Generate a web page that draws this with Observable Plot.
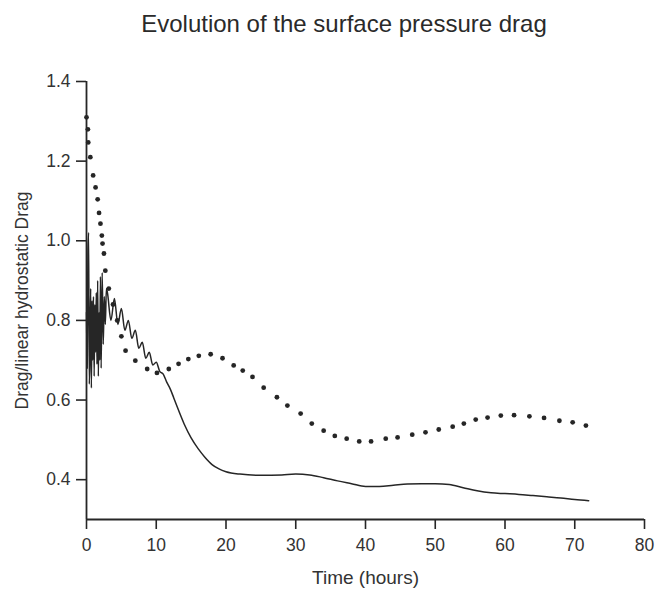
<!DOCTYPE html>
<html>
<head>
<meta charset="utf-8">
<script src="https://cdn.jsdelivr.net/npm/d3@7"></script>
<script src="https://cdn.jsdelivr.net/npm/@observablehq/plot@0.6"></script>
<style>
  body { margin: 0; background: #fff; font-family: "Liberation Sans", Arial, sans-serif; }
  #title { width: 666px; height: 50px; box-sizing: border-box; padding-top: 10px; padding-left: 22px;
           text-align: center; font-size: 24px; line-height: 28px; color: #2a2a2a; }
  svg { display: block; }
</style>
</head>
<body>
<div id="title">Evolution of the surface pressure drag</div>
<div id="chart"></div>
<script>
// Solid line: full simulation (time in hours, drag ratio)
const solidTime = [0, 0.1, 0.2, 0.3, 0.4, 0.5, 0.6, 0.7, 0.8, 0.9, 1.0, 1.1, 1.2, 1.3, 1.4, 1.5, 1.6, 1.7, 1.8, 1.9, 2.0, 2.1, 2.25, 2.4, 2.55, 2.7, 2.85,
  3.0, 3.5, 4.0, 4.5, 5.0, 5.5, 6.0, 6.5, 7.0, 7.5, 8.0, 8.5, 9.0, 9.5, 10.0, 10.5, 11, 11.5, 12, 12.5, 13, 14, 15, 16, 17, 18, 19, 20,
  22, 25, 28, 30, 32, 34, 36, 38, 40, 42, 44, 46, 48, 50, 52, 54, 56, 58, 60, 62, 64, 66, 68, 70, 72];
const solidValue = [0.82, 0.68, 0.97, 1.02, 0.64, 0.72, 0.88, 0.63, 0.85, 0.70, 0.86, 0.66, 0.84, 0.72, 0.87, 0.69, 0.90, 0.66, 0.82, 0.70, 0.91, 0.68, 0.92, 0.74, 0.86, 0.79, 0.88,
  0.87, 0.80, 0.855, 0.79, 0.83, 0.775, 0.80, 0.755, 0.775, 0.73, 0.745, 0.705, 0.72, 0.688, 0.695, 0.672, 0.665, 0.645, 0.628, 0.606, 0.583, 0.54, 0.505, 0.478, 0.456, 0.438, 0.427, 0.42,
  0.414, 0.411, 0.412, 0.414, 0.412, 0.405, 0.397, 0.39, 0.383, 0.383, 0.386, 0.389, 0.39, 0.39, 0.388, 0.38, 0.372, 0.367, 0.365, 0.363, 0.36, 0.357, 0.354, 0.35, 0.347];

// Dotted series
const dotTime = [0, 0.2, 0.25, 0.55, 0.95, 1.3, 1.6, 1.8, 2.0, 2.2, 2.3, 2.5, 2.7, 3.2, 3.8, 4.4, 5.0, 5.6, 7.0, 8.7, 10.1, 11.8, 13.2, 14.6, 16.1, 17.8, 19.5, 21.1, 22.4, 23.8,
  25.4, 27.3, 28.8, 30.7, 32.3, 34.0, 35.6, 37.3, 39.1, 40.8, 42.9, 44.6, 46.7, 48.6, 50.5, 52.5, 54.1, 55.8, 57.5, 59.4, 61.3, 63.5, 65.6, 67.8, 69.7, 71.6];
const dotValue = [1.31, 1.28, 1.247, 1.21, 1.164, 1.134, 1.104, 1.07, 1.043, 1.013, 0.993, 0.968, 0.925, 0.88, 0.84, 0.80, 0.76, 0.724, 0.699, 0.678, 0.668, 0.678, 0.691, 0.703, 0.711, 0.715, 0.705, 0.687, 0.674, 0.658,
  0.631, 0.607, 0.586, 0.566, 0.541, 0.523, 0.510, 0.503, 0.496, 0.496, 0.503, 0.506, 0.513, 0.519, 0.526, 0.533, 0.541, 0.551, 0.556, 0.561, 0.562, 0.559, 0.555, 0.548, 0.544, 0.536];

const xTicks = [0, 10, 20, 30, 40, 50, 60, 70, 80];
const yTicks = [0.4, 0.6, 0.8, 1.0, 1.2, 1.4];
const xLabel = "Time (hours)";
const yLabel = "Drag/linear hydrostatic Drag";

const solid = solidTime.map((t, i) => ({t, v: solidValue[i]}));
const dots = dotTime.map((t, i) => ({t, v: dotValue[i]}));

const ink = "#262626";
const plot = Plot.plot({
  width: 666,
  height: 539,
  marginLeft: 86,
  marginRight: 22,
  marginTop: 31,
  marginBottom: 70,
  style: {fontFamily: "'Liberation Sans', Arial, sans-serif", fontSize: "17px", color: "#333", background: "#fff"},
  x: {domain: [0, 80]},
  y: {domain: [0.3, 1.4]},
  marks: [
    Plot.axisX({ticks: xTicks, tickSize: 10, tickPadding: 9, tickFormat: d3.format("d"), label: null, stroke: ink, strokeWidth: 1.6, fill: "#333", fontSize: 17.5}),
    Plot.axisY({ticks: yTicks, tickSize: 10, tickPadding: 6, tickFormat: d3.format(".1f"), label: null, stroke: ink, strokeWidth: 1.6, fill: "#333", fontSize: 17.5}),
    Plot.ruleY([0.3], {stroke: ink, strokeWidth: 1.8}),
    Plot.ruleX([0], {stroke: ink, strokeWidth: 1.8}),
    Plot.line(solid, {x: "t", y: "v", stroke: ink, strokeWidth: 1.5, curve: "monotone-x"}),
    Plot.dot(dots, {x: "t", y: "v", r: 2.4, fill: ink, stroke: "none"}),
    Plot.text([xLabel], {text: d => d, frameAnchor: "bottom", dy: 58, lineAnchor: "middle", fontSize: 19, fill: "#333"}),
    Plot.text([yLabel], {text: d => d, frameAnchor: "left", dx: -64, rotate: -90, lineAnchor: "middle", textAnchor: "middle", fontSize: 17.5, fill: "#333"})
  ]
});
document.getElementById("chart").appendChild(plot);
</script>
</body>
</html>
